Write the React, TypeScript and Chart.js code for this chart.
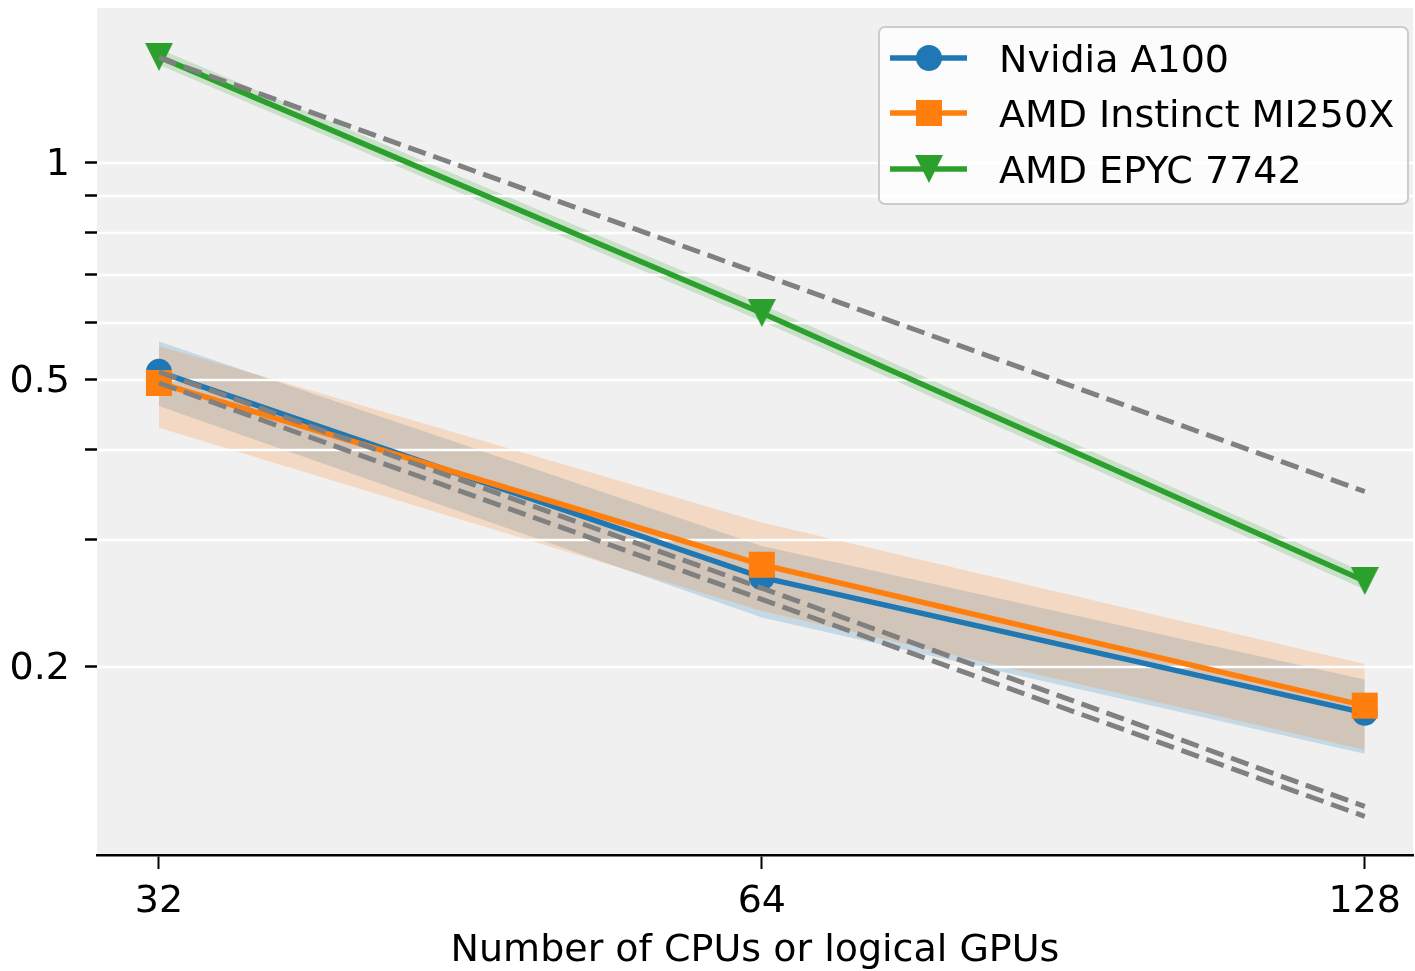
import React, { useEffect, useRef } from "react";
import { Chart, registerables } from "chart.js";

Chart.register(...registerables);

// ---- data ----
const cpus = [32, 64, 128];
const xTickValues = [32, 64, 128];
const yTickValues = [0.2, 0.3, 0.4, 0.5, 0.6, 0.7, 0.8, 0.9, 1];
const yTickLabels = [0.2, 0.5, 1];

const a100 = [0.513, 0.266, 0.1726];
const a100Upper = [0.565, 0.294, 0.192];
const a100Lower = [0.46, 0.234, 0.1514];
const a100Ideal = [0.513, 0.257, 0.128];

const mi250x = [0.495, 0.277, 0.1766];
const mi250xUpper = [0.557, 0.317, 0.2018];
const mi250xLower = [0.429, 0.239, 0.1534];
const mi250xIdeal = [0.495, 0.248, 0.124];

const epyc = [1.403, 0.619, 0.263];
const epycUpper = [1.44, 0.636, 0.27];
const epycLower = [1.368, 0.603, 0.256];
const epycIdeal = [1.4, 0.7, 0.35];

const seriesNames = ["Nvidia A100", "AMD Instinct MI250X", "AMD EPYC 7742"];

const BLUE = "#1f77b4";
const ORANGE = "#ff7f0e";
const GREEN = "#2ca02c";
const GREY = "#808080";
const FONT = "DejaVu Sans";
const FS = 38;

const pts = (ys: number[]) => cpus.map((x, i) => ({ x, y: ys[i] }));

function makeTriangle(color: string) {
  const c = document.createElement("canvas");
  c.width = 28;
  c.height = 28;
  const g = c.getContext("2d")!;
  g.fillStyle = color;
  g.beginPath();
  g.moveTo(0, 0);
  g.lineTo(28, 0);
  g.lineTo(14, 28);
  g.closePath();
  g.fill();
  return c;
}

export default function App() {
  const ref = useRef<HTMLCanvasElement | null>(null);

  useEffect(() => {
    document.body.style.margin = "0";
    const tri = makeTriangle(GREEN);

    const bandDs = (up: number[], lo: number[], col: string) => [
      {
        data: pts(up),
        borderColor: "rgba(0,0,0,0)",
        borderWidth: 0,
        pointRadius: 0,
        fill: false,
        order: 20,
      },
      {
        data: pts(lo),
        borderColor: "rgba(0,0,0,0)",
        borderWidth: 0,
        pointRadius: 0,
        fill: "-1",
        backgroundColor: col,
        order: 20,
      },
    ];

    const dashDs = (ys: number[]) => ({
      data: pts(ys),
      borderColor: GREY,
      borderWidth: 5,
      borderDash: [18.5, 8],
      pointRadius: 0,
      fill: false,
      order: 1,
    });

    const bgPlugin = {
      id: "bg",
      beforeDraw(chart: any) {
        const { ctx, chartArea } = chart;
        ctx.save();
        ctx.fillStyle = "#f0f0f0";
        ctx.fillRect(chartArea.left, chartArea.top, chartArea.right - chartArea.left, chartArea.bottom - chartArea.top);
        ctx.restore();
      },
    };

    const gridPlugin = {
      id: "gridAbove",
      beforeDatasetsDraw(chart: any) {
        const { ctx, chartArea } = chart;
        const y = chart.scales.y;
        ctx.save();
        ctx.strokeStyle = "#ffffff";
        ctx.lineWidth = 2.5;
        for (const v of yTickValues) {
          const py = Math.round(y.getPixelForValue(v));
          ctx.beginPath();
          ctx.moveTo(chartArea.left, py);
          ctx.lineTo(chartArea.right, py);
          ctx.stroke();
        }
        ctx.restore();
      },
    };

    const legendPlugin = {
      id: "customLegend",
      afterDraw(chart: any) {
        const { ctx } = chart;
        ctx.save();
        const bx = 879, by = 27, bw = 529, bh = 177;
        ctx.beginPath();
        (ctx as any).roundRect(bx, by, bw, bh, 6);
        ctx.fillStyle = "rgba(255,255,255,0.8)";
        ctx.fill();
        ctx.strokeStyle = "#cccccc";
        ctx.lineWidth = 2;
        ctx.stroke();
        const rows = [58, 113, 169];
        const cols = [BLUE, ORANGE, GREEN];
        rows.forEach((ry, i) => {
          ctx.strokeStyle = cols[i];
          ctx.lineWidth = 5.5;
          ctx.setLineDash([]);
          ctx.beginPath();
          ctx.moveTo(890, ry);
          ctx.lineTo(967, ry);
          ctx.stroke();
          ctx.fillStyle = cols[i];
          if (i === 0) {
            ctx.beginPath();
            ctx.arc(929, ry, 13, 0, Math.PI * 2);
            ctx.fill();
          } else if (i === 1) {
            ctx.fillRect(929 - 13, ry - 13, 26, 26);
          } else {
            ctx.drawImage(tri, 929 - 14, ry - 14);
          }
          ctx.fillStyle = "#000";
          ctx.font = `${FS}px "${FONT}"`;
          ctx.textBaseline = "alphabetic";
          ctx.textAlign = "left";
          ctx.fillText(seriesNames[i], 999, ry + 14);
        });
        ctx.restore();
      },
    };

    const chart = new Chart(ref.current!, {
      type: "line",
      data: {
        datasets: [
          ...bandDs(epycUpper, epycLower, "rgba(44,160,44,0.2)"),
          ...bandDs(mi250xUpper, mi250xLower, "rgba(255,127,14,0.2)"),
          ...bandDs(a100Upper, a100Lower, "rgba(31,119,180,0.2)"),
          {
            label: seriesNames[0],
            data: pts(a100),
            borderColor: BLUE,
            backgroundColor: BLUE,
            borderWidth: 5.5,
            pointRadius: 13,
            pointStyle: "circle",
            pointBorderWidth: 0,
            fill: false,
            order: 5,
          },
          {
            label: seriesNames[1],
            data: pts(mi250x),
            borderColor: ORANGE,
            backgroundColor: ORANGE,
            borderWidth: 5.5,
            pointRadius: 18.4,
            pointStyle: "rect",
            pointBorderWidth: 0,
            fill: false,
            order: 4,
          },
          {
            label: seriesNames[2],
            data: pts(epyc),
            borderColor: GREEN,
            backgroundColor: GREEN,
            borderWidth: 5.5,
            pointRadius: 14,
            pointStyle: tri as any,
            fill: false,
            order: 3,
          },
          dashDs(a100Ideal),
          dashDs(mi250xIdeal),
          dashDs(epycIdeal),
        ] as any,
      },
      options: {
        responsive: false,
        devicePixelRatio: 1,
        animation: false,
        layout: { autoPadding: false, padding: { top: 8, right: 2, left: 0, bottom: 0 } },
        plugins: {
          legend: { display: false },
          tooltip: { enabled: false },
          filler: { drawTime: "beforeDatasetsDraw" } as any,
        },
        elements: { line: { tension: 0 } },
        scales: {
          x: {
            type: "logarithmic",
            min: 29.8,
            max: 135.3,
            afterBuildTicks: (s: any) => {
              s.ticks = xTickValues.map((v) => ({ value: v }));
            },
            afterFit: (s: any) => {
              s.height = 116;
              s.paddingLeft = 0;
              s.paddingRight = 0;
            },
            ticks: {
              callback: (v: any) => String(v),
              font: { family: FONT, size: FS },
              color: "#000",
              padding: 10,
              autoSkip: false,
              maxRotation: 0,
            },
            grid: {
              drawOnChartArea: false,
              drawTicks: true,
              tickLength: 14,
              tickColor: "#000",
              tickWidth: 2,
            } as any,
            border: { display: true, color: "#000", width: 2.5 },
            title: {
              display: true,
              text: "Number of CPUs or logical GPUs",
              font: { family: FONT, size: FS, lineHeight: 1.05 },
              color: "#000",
              padding: { top: 0, bottom: 0 },
            },
          },
          y: {
            type: "logarithmic",
            min: 0.1096,
            max: 1.64,
            afterBuildTicks: (s: any) => {
              s.ticks = yTickValues.map((v) => ({ value: v }));
            },
            afterFit: (s: any) => {
              s.width = 97;
              s.paddingTop = 0;
              s.paddingBottom = 0;
            },
            ticks: {
              callback: (v: any) => (yTickLabels.includes(v) ? String(v) : ""),
              font: { family: FONT, size: FS },
              color: "#000",
              padding: 15,
              labelOffset: 2,
              autoSkip: false,
            },
            grid: {
              drawOnChartArea: false,
              drawTicks: true,
              tickLength: 12,
              tickColor: "#000",
              tickWidth: 2.5,
            } as any,
            border: { display: false },
          },
        },
      } as any,
      plugins: [bgPlugin, gridPlugin, legendPlugin],
    });
    return () => chart.destroy();
  }, []);

  return (
    <div style={{ position: "absolute", left: 0, top: 0, width: 1415, height: 971 }}>
      <canvas ref={ref} width={1415} height={971} />
    </div>
  );
}
